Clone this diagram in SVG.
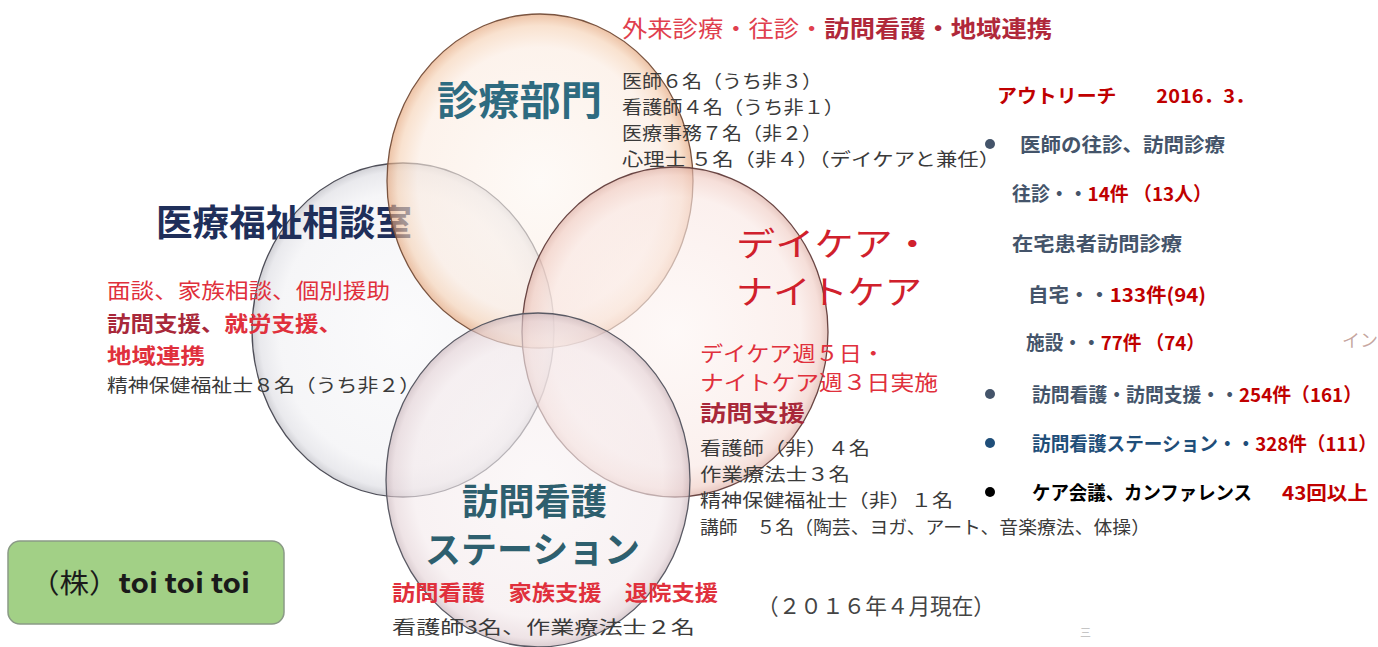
<svg xmlns="http://www.w3.org/2000/svg" width="1378" height="647" viewBox="0 0 1378 647">
<defs>
<radialGradient id="gTop" cx="0.5" cy="0.5" r="0.5">
<stop offset="0" stop-color="#fdf7f2"/><stop offset="0.8" stop-color="#fbebe0"/><stop offset="0.93" stop-color="#f5d0b2"/><stop offset="1" stop-color="#e29e70"/>
</radialGradient>
<radialGradient id="gLeft" cx="0.5" cy="0.5" r="0.5">
<stop offset="0" stop-color="#f8f8fa"/><stop offset="0.82" stop-color="#f0f0f3"/><stop offset="0.95" stop-color="#dcdce2"/><stop offset="1" stop-color="#b4b4bc"/>
</radialGradient>
<radialGradient id="gRight" cx="0.5" cy="0.5" r="0.5">
<stop offset="0" stop-color="#fdf5f3"/><stop offset="0.82" stop-color="#f9e7e3"/><stop offset="0.95" stop-color="#f0cbc2"/><stop offset="1" stop-color="#d9a79c"/>
</radialGradient>
<radialGradient id="gBottom" cx="0.5" cy="0.5" r="0.5">
<stop offset="0" stop-color="#f9f3f4"/><stop offset="0.82" stop-color="#f4eaec"/><stop offset="0.95" stop-color="#e4d2d6"/><stop offset="1" stop-color="#c4aeb4"/>
</radialGradient>
<style>
text{font-family:"Noto Sans CJK JP","Noto Sans",sans-serif}
.bubble{fill-opacity:0.62;stroke-width:1.3}
.gray{fill:#3a3a3a;font-size:18px}
.red{fill:#e0303c;font-size:21px}
.dred{fill:#a8283a}
.slate{fill:#44546a;font-weight:bold;font-size:19px}
.ored{fill:#c00000;font-weight:bold;font-size:19px}
</style>
</defs>
<rect width="1378" height="647" fill="#ffffff"/>
<g id="connectors"/>

<g id="node-soudan">
<ellipse class="bubble" cx="403" cy="330" rx="151" ry="167" fill="url(#gLeft)" stroke="#4e4e58"/>
<text x="156" y="236" font-size="36" font-weight="bold" fill="#1f2f5a" textLength="256" lengthAdjust="spacingAndGlyphs">医療福祉相談室</text>
<text x="107" y="298" class="red" textLength="283" lengthAdjust="spacingAndGlyphs">面談、家族相談、個別援助</text>
<text x="107" y="331" class="red" font-weight="bold" textLength="235" lengthAdjust="spacingAndGlyphs"><tspan class="dred">訪問支援、</tspan>就労支援、</text>
<text x="107" y="363" class="red" font-weight="bold" textLength="98" lengthAdjust="spacingAndGlyphs">地域連携</text>
<text x="107" y="392" class="gray" font-size="19" textLength="313" lengthAdjust="spacingAndGlyphs">精神保健福祉士８名（うち非２）</text>
</g>

<g id="node-shinryo">
<ellipse class="bubble" cx="540" cy="181" rx="153" ry="167" fill="url(#gTop)" stroke="#7a5440"/>
<text x="437" y="115" font-size="40" font-weight="bold" fill="#2e6b80" textLength="165" lengthAdjust="spacingAndGlyphs">診療部門</text>
<text x="622" y="37" font-size="23" textLength="430" lengthAdjust="spacingAndGlyphs" fill="#e0404e">外来診療・往診・<tspan fill="#b0283a" font-weight="bold">訪問看護・地域連携</tspan></text>
<text x="622" y="88" class="gray" textLength="200" lengthAdjust="spacingAndGlyphs">医師６名（うち非３）</text>
<text x="622" y="114" class="gray" textLength="222" lengthAdjust="spacingAndGlyphs">看護師４名（うち非１）</text>
<text x="622" y="140" class="gray" textLength="200" lengthAdjust="spacingAndGlyphs">医療事務７名（非２）</text>
<text x="622" y="166" class="gray" textLength="378" lengthAdjust="spacingAndGlyphs">心理士 ５名（非４）（デイケアと兼任）</text>
</g>

<g id="node-daycare">
<ellipse class="bubble" cx="675" cy="332" rx="153" ry="165" fill="url(#gRight)" stroke="#6a4644"/>
<text x="736" y="256" font-size="33" fill="#d0202c" textLength="196" lengthAdjust="spacingAndGlyphs">デイケア・</text>
<text x="736" y="304" font-size="33" fill="#d0202c" textLength="186" lengthAdjust="spacingAndGlyphs">ナイトケア</text>
<text x="700" y="361" class="red" textLength="185" lengthAdjust="spacingAndGlyphs">デイケア週５日・</text>
<text x="700" y="390" class="red" textLength="238" lengthAdjust="spacingAndGlyphs">ナイトケア週３日実施</text>
<text x="700" y="421" font-size="22" font-weight="bold" class="dred" textLength="105" lengthAdjust="spacingAndGlyphs">訪問支援</text>
<text x="700" y="455" class="gray" textLength="170" lengthAdjust="spacingAndGlyphs">看護師（非）４名</text>
<text x="700" y="481" class="gray" textLength="150" lengthAdjust="spacingAndGlyphs">作業療法士３名</text>
<text x="700" y="507" class="gray" textLength="253" lengthAdjust="spacingAndGlyphs">精神保健福祉士（非）１名</text>
<text x="700" y="534" class="gray" font-size="17" textLength="450" lengthAdjust="spacingAndGlyphs">講師　５名（陶芸、ヨガ、アート、音楽療法、体操）</text>
</g>

<g id="node-station">
<ellipse class="bubble" cx="538" cy="480" rx="152" ry="167" fill="url(#gBottom)" stroke="#5a5a64"/>
<text x="462" y="515" font-size="36" font-weight="bold" fill="#2e5f6e" textLength="145" lengthAdjust="spacingAndGlyphs">訪問看護</text>
<text x="425" y="563" font-size="36" font-weight="bold" fill="#2e5f6e" textLength="215" lengthAdjust="spacingAndGlyphs">ステーション</text>
<text x="392" y="600" class="red" font-weight="bold" textLength="326" lengthAdjust="spacingAndGlyphs">訪問看護　家族支援　退院支援</text>
<text x="392" y="634" class="gray" font-size="21" textLength="303" lengthAdjust="spacingAndGlyphs">看護師3名、作業療法士２名</text>
</g>

<g id="date-note">
<text x="757" y="614" font-size="22" fill="#444" textLength="238" lengthAdjust="spacingAndGlyphs">（２０１６年４月現在）</text>
</g>

<g id="node-company">
<rect x="8" y="541" width="276" height="83" rx="12" fill="#a2d086" stroke="#8a9a86" stroke-width="1.5"/>
<text x="30" y="593" font-size="27" fill="#1a1a1a" textLength="220" lengthAdjust="spacingAndGlyphs">（株）<tspan font-weight="bold">toi toi toi</tspan></text>
</g>

<g id="outreach">
<text x="997" y="103" class="ored" font-size="20" textLength="258" lengthAdjust="spacingAndGlyphs">アウトリーチ　　2016．3．</text>
<circle cx="990" cy="144" r="5" fill="#44546a"/>
<text x="1020" y="152" class="slate" textLength="205" lengthAdjust="spacingAndGlyphs">医師の往診、訪問診療</text>
<text x="1012" y="201" class="slate" textLength="200" lengthAdjust="spacingAndGlyphs">往診・・<tspan fill="#c00000">14件 （13人）</tspan></text>
<text x="1012" y="251" class="slate" textLength="170" lengthAdjust="spacingAndGlyphs">在宅患者訪問診療</text>
<text x="1028" y="302" class="slate" textLength="178" lengthAdjust="spacingAndGlyphs">自宅・・<tspan fill="#c00000">133件(94)</tspan></text>
<text x="1026" y="350" class="slate" textLength="179" lengthAdjust="spacingAndGlyphs">施設・・<tspan fill="#c00000">77件 （74）</tspan></text>
<circle cx="990" cy="394" r="5" fill="#44546a"/>
<text x="1032" y="402" class="slate" textLength="330" lengthAdjust="spacingAndGlyphs">訪問看護・訪問支援・・<tspan fill="#c00000">254件（161）</tspan></text>
<circle cx="990" cy="443" r="5" fill="#1f4e79"/>
<text x="1032" y="451" class="slate" style="fill:#1f4e79" textLength="345" lengthAdjust="spacingAndGlyphs">訪問看護ステーション・・<tspan style="fill:#c00000">328件（111）</tspan></text>
<circle cx="990" cy="492" r="5" fill="#000"/>
<text x="1032" y="500" class="slate" style="fill:#000" textLength="220" lengthAdjust="spacingAndGlyphs">ケア会議、カンファレンス</text>
<text x="1282" y="500" class="ored" textLength="86" lengthAdjust="spacingAndGlyphs">43回以上</text>
<text x="1342" y="347" font-size="18" fill="#a06a60" fill-opacity="0.6">イン</text>
<text x="1080" y="637" font-size="11" fill="#999" fill-opacity="0.7">三</text>
</g>
</svg>
